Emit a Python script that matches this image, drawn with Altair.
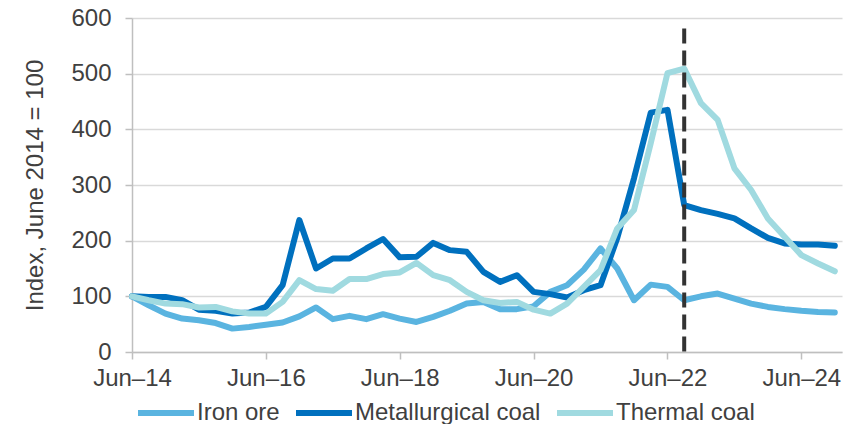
import altair as alt
import pandas as pd

# Quarterly index, Jun-14 = 0 ... Dec-24 = 42
quarters = list(range(43))

iron_ore = [100, 84, 69, 60, 57, 52, 42, 45, 49, 53, 64, 80, 59, 65, 59, 68,
            60, 54, 63, 74, 87, 90, 77, 77, 82, 108, 120, 148, 186, 150, 93, 121,
            117, 93, 100, 105, 96, 87, 81, 77, 74, 72, 71]
met_coal = [100, 99, 99, 93, 76, 74, 69, 71, 81, 120, 237, 150, 168, 168, 186, 203,
            170, 171, 196, 183, 180, 144, 126, 138, 108, 104, 98, 111, 120, 205, 312, 430,
            435, 264, 255, 248, 240, 222, 205, 195, 193, 193, 191]
thermal_coal = [100, 93, 87, 86, 80, 81, 73, 69, 69, 90, 129, 113, 110, 131, 131, 140,
                143, 160, 138, 129, 108, 93, 88, 90, 76, 69, 87, 117, 147, 222, 255, 375,
                501, 509, 447, 417, 330, 291, 240, 207, 174, 159, 145]

series_names = ["Iron ore", "Metallurgical coal", "Thermal coal"]
series_colors = ["#5AB4E0", "#0070BE", "#A0DAE0"]

tick_values = [0, 8, 16, 24, 32, 40]
tick_labels = ["Jun–14", "Jun–16", "Jun–18", "Jun–20", "Jun–22", "Jun–24"]
y_ticks = [0, 100, 200, 300, 400, 500, 600]

marker_quarter = [33]
marker_top = [581]
marker_bottom = [0]

rows = []
for name, vals in zip(series_names, [iron_ore, met_coal, thermal_coal]):
    for q, v in zip(quarters, vals):
        rows.append({"q": q, "value": v, "series": name})
df = pd.DataFrame(rows)

label_expr = "[" + ",".join("'" + t + "'" for t in tick_labels) + "][round(datum.value/8)]"

FONT = "Liberation Sans"
TXT = "#404040"
FS = 24

x_scale = alt.Scale(domain=[0, 42.43], nice=False, zero=False)
y_scale = alt.Scale(domain=[0, 600], nice=False)

lines = alt.Chart(df).mark_line(strokeWidth=6, strokeCap="round", strokeJoin="round").encode(
    x=alt.X("q:Q", scale=x_scale,
            axis=alt.Axis(values=tick_values, labelExpr=label_expr, grid=False, title=None,
                          domainColor="#BFBFBF", domainWidth=1.5, tickColor="#BFBFBF",
                          tickWidth=1.5, tickSize=7, labelFontSize=FS, labelFont=FONT,
                          labelColor=TXT, labelPadding=7, labelFlush=False)),
    y=alt.Y("value:Q", scale=y_scale,
            axis=alt.Axis(values=y_ticks, title="Index, June 2014 = 100", titleFontSize=FS,
                          titleFont=FONT, titleFontWeight="normal", titleColor=TXT,
                          titlePadding=23, gridColor="#D9D9D9", gridWidth=1.5,
                          domainColor="#BFBFBF", domainWidth=1.5, tickColor="#BFBFBF",
                          tickWidth=1.5, tickSize=7, labelFontSize=FS, labelFont=FONT,
                          labelColor=TXT, labelPadding=14)),
    color=alt.Color("series:N",
                    scale=alt.Scale(domain=series_names, range=series_colors),
                    legend=alt.Legend(orient="none", direction="horizontal", title=None,
                                      legendX=3, legendY=364, symbolType="stroke",
                                      symbolSize=3136, symbolStrokeWidth=6,
                                      labelFontSize=FS, labelFont=FONT, labelColor=TXT,
                                      labelOffset=0, labelLimit=400, columnPadding=4,
                                      padding=0)),
    detail="series:N",
)

marker_df = pd.DataFrame({"q": marker_quarter, "top": marker_top, "bottom": marker_bottom})
marker = alt.Chart(marker_df).mark_rule(color="#333333", strokeWidth=4, strokeDash=[15, 7]).encode(
    x=alt.X("q:Q", scale=x_scale),
    y=alt.Y("top:Q", scale=y_scale),
    y2="bottom:Q",
)

chart = alt.layer(lines, marker).properties(
    width=710, height=334,
    autosize=alt.AutoSizeParams(type="none"),
    padding={"left": 132, "top": 18, "right": 15, "bottom": 72},
    background="white",
).configure_view(stroke=None)

chart.save("out.html", embed_options={"renderer": "svg", "actions": False})
